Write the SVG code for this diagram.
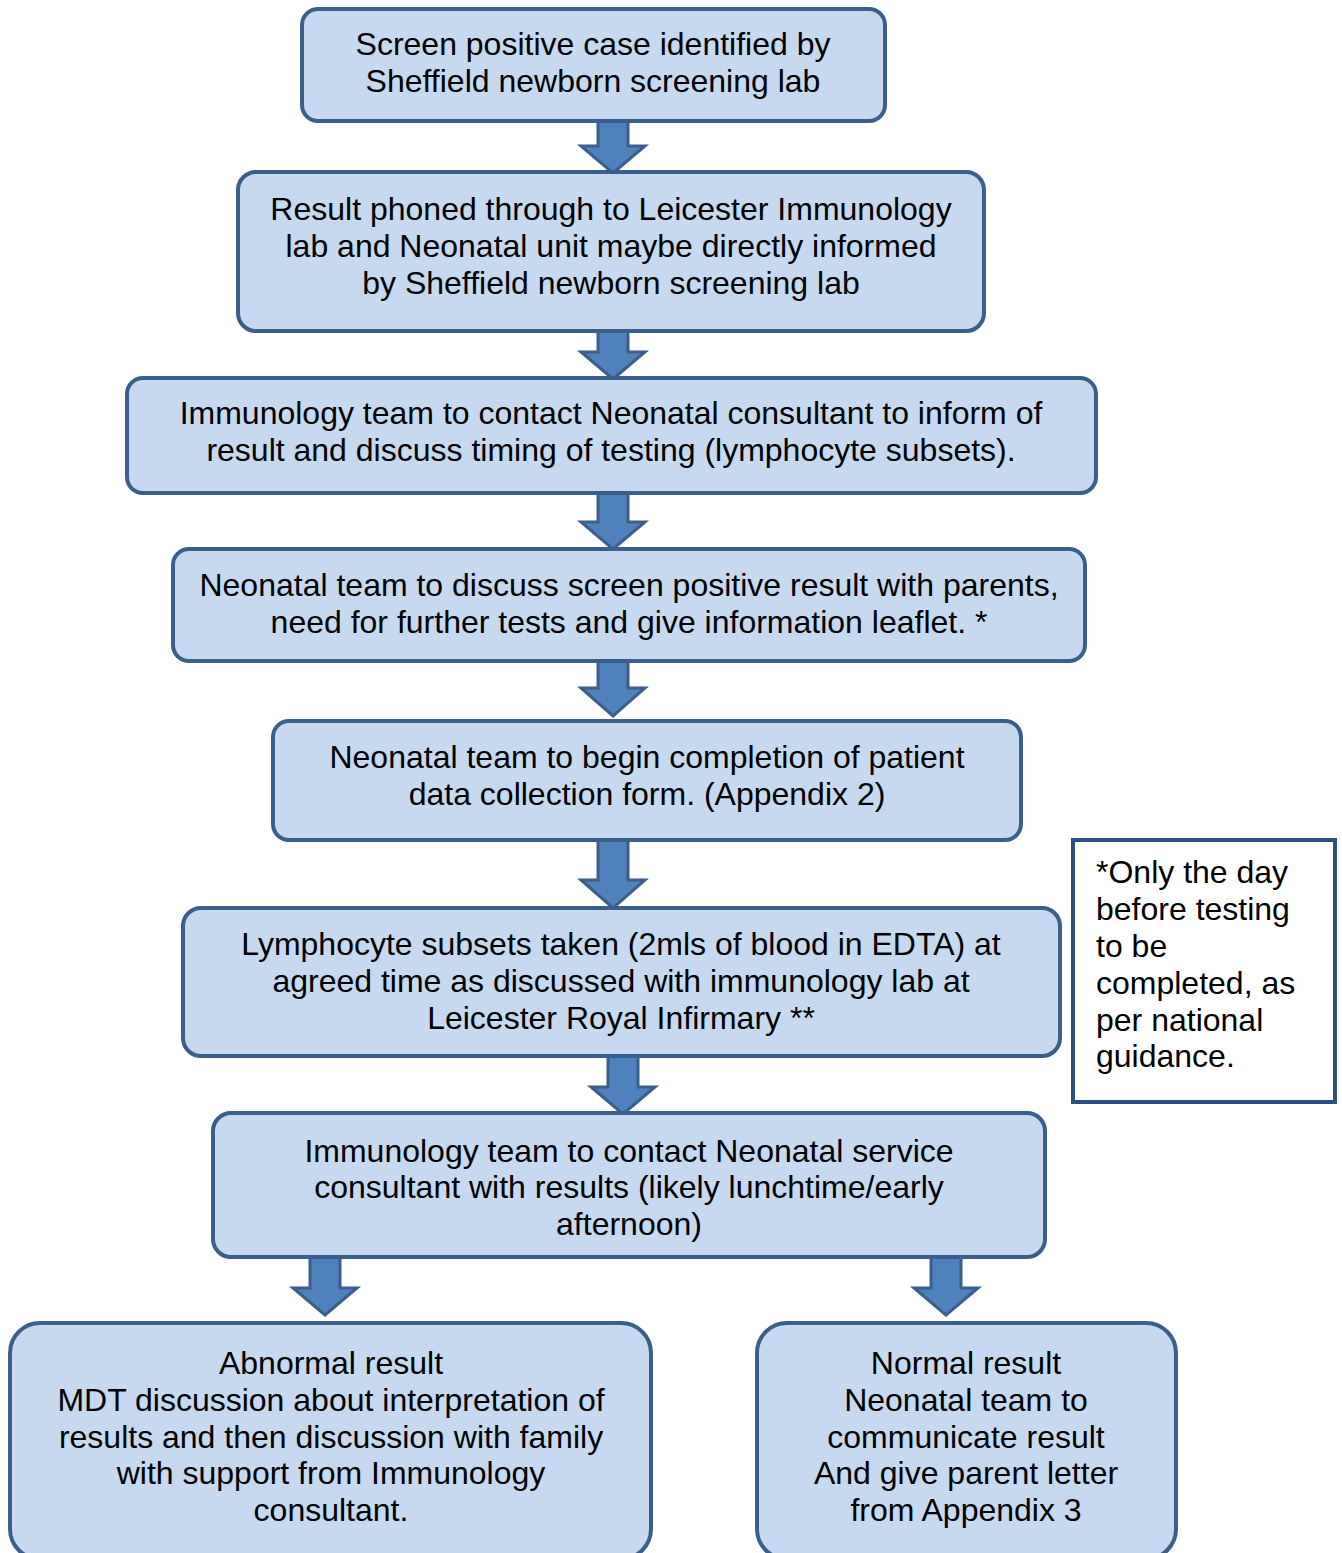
<svg xmlns="http://www.w3.org/2000/svg" width="1342" height="1553" viewBox="0 0 1342 1553">
<style>
.box{fill:#C6D9F1;stroke:#3A5F8B;stroke-width:4}
.note{fill:#FFFFFF;stroke:#2C5084;stroke-width:4}
.arr{fill:#4F81BD;stroke:#3A5F8B;stroke-width:3;stroke-linejoin:miter}
text{font-family:"Liberation Sans",Arial,sans-serif;font-size:32px;fill:#000}
.c{text-anchor:middle}
</style>
<rect width="1342" height="1553" fill="#FFFFFF"/>
<g id="connectors">
<polygon class="arr" points="598,121 628,121 628,146 645,146 613,173 581,146 598,146"/>
<polygon class="arr" points="598,331 628,331 628,352 645,352 613,379 581,352 598,352"/>
<polygon class="arr" points="598,493 628,493 628,522 645,522 613,549 581,522 598,522"/>
<polygon class="arr" points="598,661 628,661 628,688 645,688 613,716 581,688 598,688"/>
<polygon class="arr" points="598,840 628,840 628,880 645,880 613,908 581,880 598,880"/>
<polygon class="arr" points="608,1056 638,1056 638,1087 655,1087 623,1114 591,1087 608,1087"/>
<polygon class="arr" points="310,1257 340,1257 340,1288 357,1288 325,1315 293,1288 310,1288"/>
<polygon class="arr" points="931,1257 961,1257 961,1288 978,1288 946,1315 914,1288 931,1288"/>
</g>
<g id="n1"><rect class="box" x="302" y="9" width="583" height="112" rx="16"/>
<text class="c" x="593" y="55">Screen positive case identified by</text>
<text class="c" x="593" y="92">Sheffield newborn screening lab</text></g>
<g id="n2"><rect class="box" x="238" y="172" width="746" height="159" rx="18"/>
<text class="c" x="611" y="220">Result phoned through to Leicester Immunology</text>
<text class="c" x="611" y="257">lab and Neonatal unit maybe directly informed</text>
<text class="c" x="611" y="294">by Sheffield newborn screening lab</text></g>
<g id="n3"><rect class="box" x="127" y="378" width="969" height="115" rx="16"/>
<text class="c" x="611" y="424">Immunology team to contact Neonatal consultant to inform of</text>
<text class="c" x="611" y="461">result and discuss timing of testing (lymphocyte subsets).</text></g>
<g id="n4"><rect class="box" x="173" y="549" width="912" height="112" rx="16"/>
<text class="c" x="629" y="596">Neonatal team to discuss screen positive result with parents,</text>
<text class="c" x="629" y="633">need for further tests and give information leaflet. *</text></g>
<g id="n5"><rect class="box" x="273" y="721" width="748" height="119" rx="16"/>
<text class="c" x="647" y="768">Neonatal team to begin completion of patient</text>
<text class="c" x="647" y="805">data collection form. (Appendix 2)</text></g>
<g id="n6"><rect class="box" x="183" y="908" width="877" height="148" rx="18"/>
<text class="c" x="621" y="955">Lymphocyte subsets taken (2mls of blood in EDTA) at</text>
<text class="c" x="621" y="992">agreed time as discussed with immunology lab at</text>
<text class="c" x="621" y="1029">Leicester Royal Infirmary **</text></g>
<g id="n7"><rect class="box" x="213" y="1113" width="832" height="144" rx="18"/>
<text class="c" x="629" y="1162">Immunology team to contact Neonatal service</text>
<text class="c" x="629" y="1198">consultant with results (likely lunchtime/early</text>
<text class="c" x="629" y="1235">afternoon)</text></g>
<g id="n8"><rect class="box" x="10" y="1323" width="641" height="236" rx="30"/>
<text class="c" x="331" y="1374">Abnormal result</text>
<text class="c" x="331" y="1411">MDT discussion about interpretation of</text>
<text class="c" x="331" y="1448">results and then discussion with family</text>
<text class="c" x="331" y="1484">with support from Immunology</text>
<text class="c" x="331" y="1521">consultant.</text></g>
<g id="n9"><rect class="box" x="757" y="1323" width="419" height="236" rx="30"/>
<text class="c" x="966" y="1374">Normal result</text>
<text class="c" x="966" y="1411">Neonatal team to</text>
<text class="c" x="966" y="1448">communicate result</text>
<text class="c" x="966" y="1484">And give parent letter</text>
<text class="c" x="966" y="1521">from Appendix 3</text></g>
<g id="note"><rect class="note" x="1073" y="840" width="262" height="262"/>
<text x="1096" y="883">*Only the day</text>
<text x="1096" y="920">before testing</text>
<text x="1096" y="957">to be</text>
<text x="1096" y="994">completed, as</text>
<text x="1096" y="1031">per national</text>
<text x="1096" y="1067">guidance.</text></g>
</svg>
